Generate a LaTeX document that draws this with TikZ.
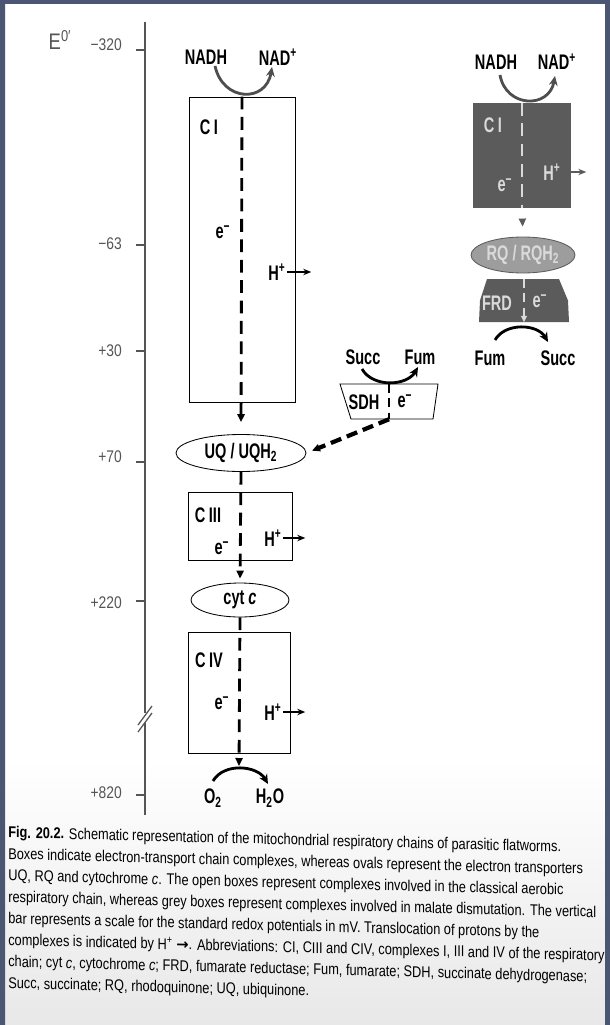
\documentclass[tikz,border=0pt]{standalone}
\usepackage{fontspec}
\setmainfont{Liberation Sans}[FakeStretch=0.82]
\newfontfamily\capfont{Liberation Sans}[FakeStretch=0.82]
\newfontfamily\lblfont{Liberation Sans}[FakeStretch=0.69]
\newfontfamily\arrowfont{DejaVu Sans}
\usetikzlibrary{positioning,arrows.meta,shapes.geometric}

\definecolor{scanframe}{HTML}{4B5672}
\definecolor{darkbox}{HTML}{5B5B5B}
\definecolor{midoval}{HTML}{9D9D9D}
\definecolor{paletext}{HTML}{DADADA}
\definecolor{scaletext}{HTML}{555555}
\definecolor{nadgrey}{HTML}{4E4E4E}

\begin{document}
\begin{tikzpicture}[
        x=0.25mm, y=-0.25mm,
        font=\fontsize{12}{14}\selectfont,
        lbl/.style={font=\lblfont\fontsize{15}{17}\selectfont\bfseries, inner sep=1pt},
        palelbl/.style={lbl, text=paletext},
        scalelbl/.style={anchor=east, inner sep=0pt, text=scaletext},
        openbox/.style={draw, line width=0.6pt, inner sep=0pt},
        greybox/.style={fill=darkbox, inner sep=0pt},
        oval/.style={ellipse, draw, line width=0.6pt, inner sep=0pt},
        holder/.style={inner sep=0pt},
        eflow/.style={line width=2pt, dash pattern=on 3.2mm off 1.9mm},
        eflowheavy/.style={line width=3pt, dash pattern=on 2.8mm off 1.5mm},
        etip/.style={-{Triangle[length=2mm,width=1.8mm]}},
        proton/.style={-{Stealth[length=2mm,width=1.6mm]}, line width=1pt},
        redox/.style={-{Stealth[length=2.4mm,width=2.2mm]}, line width=2pt}
    ]
    \useasboundingbox (0,0) rectangle (610,1025);
    \fill[white] (0,0) rectangle (610,1025);
    \shade[top color=white, bottom color=black!9] (0,760) rectangle (610,1025);

    % redox scale in mV
    \draw[line width=0.9pt, scaletext] (145,22) -- (145,713) (145,723) -- (145,815);
    \draw[line width=0.9pt, scaletext] (138,725) -- (152,706) (138,732) -- (152,713);
    \foreach \val/\ty/\ly in {−320/50/45, −63/245/244, +30/351/351, +70/462/457, +220/601/603, +820/795/793} {
        \draw[line width=0.9pt, scaletext] (136,\ty) -- (145,\ty);
        \node[scalelbl] at (122,\ly) {\val};
    }
    \node[text=scaletext, font=\fontsize{16}{18}\selectfont] (eaxis) at (60,40) {E\textsuperscript{0′}};

    % aerobic chain (open boxes)
    \node[lbl] (nadh) at (206,57) {NADH};
    \node[lbl] (nadp) at (278,57) {NAD\textsuperscript{+}};
    \node[openbox, minimum width=26.5mm, minimum height=76.25mm] (ci) at (242,249.5) {};
    \node[lbl] (cilbl) at (209,127) {C\,I};
    \node[lbl] (eci) at (223,232) {e\textsuperscript{−}};
    \node[lbl] (hci) at (277,272) {H\textsuperscript{+}};

    \node[lbl, oval, minimum width=32.5mm, minimum height=9.25mm] (uq) at (241,453) {UQ / UQH\textsubscript{2}};

    \node[openbox, minimum width=26mm, minimum height=17mm] (ciii) at (240,526) {};
    \node[lbl] (ciiilbl) at (208,515) {C\,III};
    \node[lbl] (eciii) at (222,548) {e\textsuperscript{−}};
    \node[lbl] (hciii) at (273,538) {H\textsuperscript{+}};

    \node[lbl, oval, minimum width=24.5mm, minimum height=8.5mm] (cytc) at (240,600) {cyt \textit{c}};

    \node[openbox, minimum width=25.5mm, minimum height=30.25mm] (civ) at (239,692.5) {};
    \node[lbl] (civlbl) at (209,660) {C\,IV};
    \node[lbl] (eciv) at (222,703) {e\textsuperscript{−}};
    \node[lbl] (hciv) at (273,712) {H\textsuperscript{+}};
    \coordinate (o2apex) at (239,766);
    \node[lbl] (o2) at (213,798) {O\textsubscript{2}};
    \node[lbl] (h2o) at (270,798) {H\textsubscript{2}O};

    % succinate dehydrogenase
    \node[lbl] (succ) at (363,357) {Succ};
    \node[lbl] (fum) at (420,357) {Fum};
    \node[holder, minimum width=24.5mm, minimum height=8.75mm] (sdh) at (389,401.5) {};
    \draw[fill=white, line width=0.6pt] ([shift={(-49,-17.5)}]sdh.center) -- ([shift={(49,-17.5)}]sdh.center)
        -- ([shift={(44,17.5)}]sdh.center) -- ([shift={(-38,17.5)}]sdh.center) -- cycle;
    \node[lbl] (sdhlbl) at (364,402) {SDH};
    \node[lbl] (esdh) at (405,401) {e\textsuperscript{−}};

    % electron flow and protons
    \draw[eflow, etip, shorten >=3mm] (ci.north) -- (uq.north);
    \draw[eflow, etip, shorten >=1mm] (uq.south) -- (cytc.north);
    \draw[eflow, etip] (cytc.south) -- (o2apex);
    \draw[line width=1.6pt, dash pattern=on 2.2mm off 1.4mm] (sdh.north) -- (sdh.south);
    \draw[eflowheavy, etip, shorten >=1.5mm] (sdh.south) -- (uq.east);
    \draw[proton] (hci.east) -- ++(24,0);
    \draw[proton] (hciii.east) -- ++(22,0);
    \draw[proton] (hciv.east) -- ++(22,0);
    \draw[redox, nadgrey] ([shift={(9,9)}]nadh.center) .. controls +(8,36) and +(-6,36) .. ([shift={(-6,10)}]nadp.center);
    \draw[redox] ([shift={(-1,12)}]succ.center) to[out=-60, in=-120] ([shift={(-2,10)}]fum.center);
    \draw[redox] ([shift={(0,-17)}]o2.center) to[out=60, in=120] ([shift={(-2,-14)}]h2o.center);

    % malate dismutation (grey boxes)
    \node[lbl] (nadh2) at (496,62) {NADH};
    \node[lbl] (nadp2) at (557,62) {NAD\textsuperscript{+}};
    \node[greybox, minimum width=24.5mm, minimum height=26.25mm] (ci2) at (522,155.5) {};
    \node[palelbl] (ci2lbl) at (493,125) {C\,I};
    \node[palelbl] (eci2) at (505,185) {e\textsuperscript{−}};
    \node[palelbl] (hci2) at (552,172) {H\textsuperscript{+}};
    \node[palelbl, oval, fill=midoval, draw=darkbox, minimum width=26mm, minimum height=9mm] (rq) at (523,255) {RQ / RQH\textsubscript{2}};
    \node[holder, minimum width=22.5mm, minimum height=10.75mm] (frd) at (524,300.5) {};
    \fill[darkbox] ([shift={(-37,-21.5)}]frd.center) -- ([shift={(35,-21.5)}]frd.center)
        -- ([shift={(44,0)}]frd.center) -- ([shift={(45,21.5)}]frd.center)
        -- ([shift={(-45,21.5)}]frd.center) -- ([shift={(-44,0)}]frd.center) -- cycle;
    \node[palelbl] (frdlbl) at (497,303) {FRD};
    \node[palelbl] (efrd) at (540,301) {e\textsuperscript{−}};
    \node[lbl] (fum2) at (490,358) {Fum};
    \node[lbl] (succ2) at (558,358) {Succ};

    \draw[eflow, paletext, line width=1.6pt] (ci2.north) -- (ci2.south);
    \draw[etip, line width=1pt, darkbox, shorten <=3mm, shorten >=2.5mm] (ci2.south) -- (rq.north);
    \draw[paletext, line width=1.4pt, dash pattern=on 2.2mm off 1.4mm, -{Triangle[length=1.6mm,width=1.4mm]}] (frd.north) -- (frd.south);
    \draw[proton, darkbox] (hci2.east) -- ++(24,0);
    \draw[redox, nadgrey] ([shift={(4,13)}]nadh2.center) .. controls +(6,33) and +(-6,33) .. ([shift={(-2,14)}]nadp2.center);
    \draw[redox] ([shift={(5,-18)}]fum2.center) to[out=60, in=120] ([shift={(-10,-16)}]succ2.center);

    % caption
    \node[anchor=north west, align=left, inner sep=0pt, yslant=-0.026,
          font=\capfont\fontsize{11.1}{15.3}\selectfont] (caption) at (8,826) {%
        \textbf{Fig. 20.2.} Schematic representation of the mitochondrial respiratory chains of parasitic flatworms.\\
        Boxes indicate electron-transport chain complexes, whereas ovals represent the electron transporters\\
        UQ, RQ and cytochrome \textit{c}. The open boxes represent complexes involved in the classical aerobic\\
        respiratory chain, whereas grey boxes represent complexes involved in malate dismutation. The vertical\\
        bar represents a scale for the standard redox potentials in mV. Translocation of protons by the\\
        complexes is indicated by H\textsuperscript{+} {\arrowfont\bfseries\fontsize{10.5}{12}\selectfont →}. Abbreviations: CI, CIII and CIV, complexes I, III and IV of the respiratory\\
        chain; cyt \textit{c}, cytochrome \textit{c}; FRD, fumarate reductase; Fum, fumarate; SDH, succinate dehydrogenase;\\
        Succ, succinate; RQ, rhodoquinone; UQ, ubiquinone.};

    % scan frame
    \fill[scanframe] (0,0) rectangle (610,4) (0,0) rectangle (5,1025) (605,0) rectangle (610,1025);
\end{tikzpicture}
\end{document}
